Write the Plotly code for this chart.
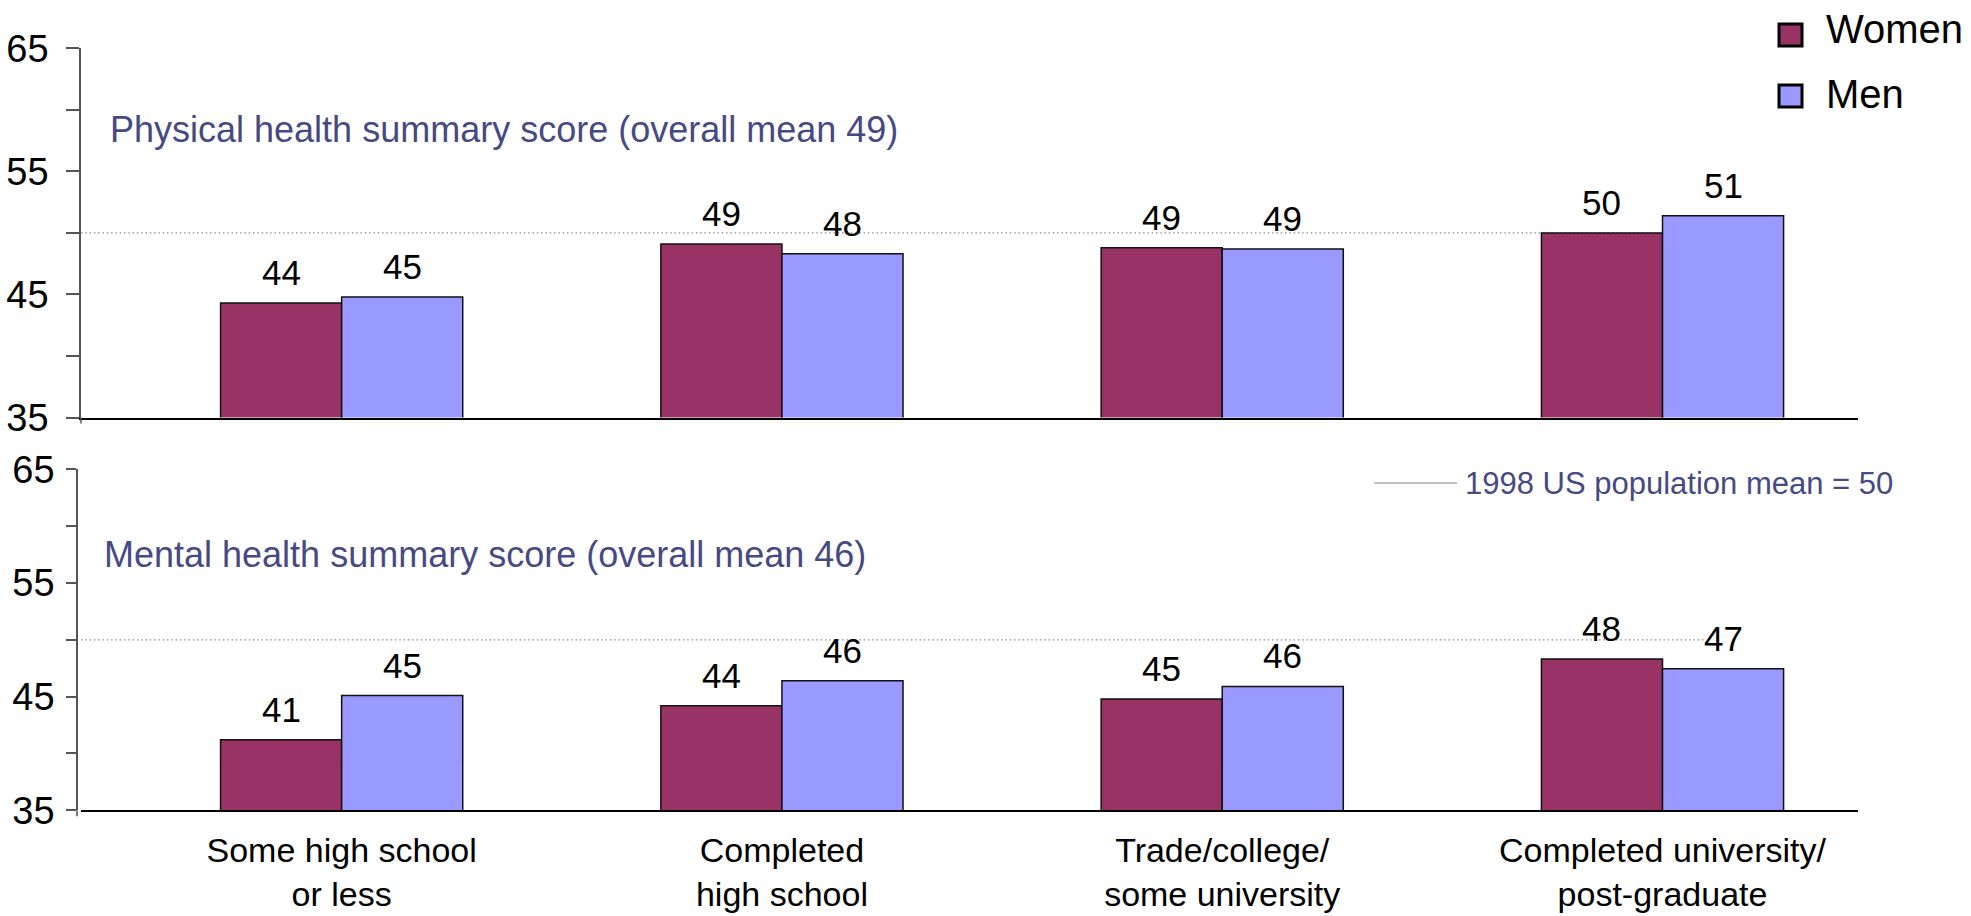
import plotly.graph_objects as go

# ---------------- data ----------------
categories = [
    "Some high school<br>or less",
    "Completed<br>high school",
    "Trade/college/<br>some university",
    "Completed university/<br>post-graduate",
]
series_names = ["Women", "Men"]
physical_women = [44.3, 49.1, 48.8, 50.0]
physical_men = [44.8, 48.3, 48.7, 51.4]
mental_women = [41.2, 44.2, 44.8, 48.3]
mental_men = [45.1, 46.4, 45.9, 47.45]
physical_title = "Physical health summary score (overall mean 49)"
mental_title = "Mental health summary score (overall mean 46)"
us_mean_label = "1998 US population mean = 50"
us_mean = 50
y_ticks = [35, 40, 45, 50, 55, 60, 65]
y_tick_labels = ["35", "", "45", "", "55", "", "65"]

# ---------------- style ----------------
W, H = 1971, 916
FONT = "Arial, Liberation Sans, sans-serif"
WOMEN_COLOR = "#993366"
MEN_COLOR = "#9999FF"
TITLE_COLOR = "#464A84"
BARGAP = 0.45
BW = (1 - BARGAP) / 2
XRANGE = [-0.592, 3.444]


def px(p):
    return p / W


def py(p):
    return 1 - p / H


fig = go.Figure()
panels = [
    ("x", "y", physical_women, physical_men),
    ("x2", "y2", mental_women, mental_men),
]
colors = [WOMEN_COLOR, MEN_COLOR]
annotations = []
shapes = []
for xa, ya, wv, mv in panels:
    for name, vals, col, sgn in [(series_names[0], wv, colors[0], -1),
                                  (series_names[1], mv, colors[1], 1)]:
        fig.add_bar(
            x=categories, y=vals, name=name, xaxis=xa, yaxis=ya,
            marker=dict(color=col, line=dict(color="#111111", width=1.5)),
            showlegend=False,
        )
        for i, v in enumerate(vals):
            annotations.append(dict(
                x=i + sgn * BW / 2, y=v, xref=xa, yref=ya,
                text=f"{v:.0f}", showarrow=False, yanchor="bottom",
                yshift=9, font=dict(size=35, color="black", family=FONT),
            ))
    # dotted reference line at the US mean
    shapes.append(dict(
        type="line", xref=xa, yref=ya, x0=XRANGE[0], x1=3.1,
        y0=us_mean, y1=us_mean, layer="below",
        line=dict(color="#8c8c8c", width=1.3, dash="1.5px,2.8px"),
    ))

# y-axis lines run a little below the lowest tick
for xpos, ybot in [(81, 417.5), (77, 810.3)]:
    shapes.append(dict(type="line", xref="paper", yref="paper",
                       x0=px(xpos), x1=px(xpos), y0=py(ybot), y1=py(ybot + 6),
                       line=dict(color="#555555", width=1.5)))

# panel titles
annotations.append(dict(
    x=px(108), y=py(129.5), xref="paper", yref="paper", xanchor="left",
    yanchor="middle", text=physical_title, showarrow=False,
    font=dict(size=36, color=TITLE_COLOR, family=FONT)))
annotations.append(dict(
    x=px(102), y=py(554.5), xref="paper", yref="paper", xanchor="left",
    yanchor="middle", text=mental_title, showarrow=False,
    font=dict(size=36, color=TITLE_COLOR, family=FONT)))

# US mean legend entry
shapes.append(dict(type="line", xref="paper", yref="paper",
                   x0=px(1374), x1=px(1457), y0=py(483), y1=py(483),
                   line=dict(color="#c0c0c0", width=2)))
annotations.append(dict(
    x=px(1463), y=py(483), xref="paper", yref="paper", xanchor="left",
    yanchor="middle", text=us_mean_label, showarrow=False,
    font=dict(size=31, color=TITLE_COLOR, family=FONT)))

# series legend
legend_rows = [(24, 29), (85, 94)]  # (square top, text centre)
for (name, col), (top, tc) in zip(zip(series_names, colors), legend_rows):
    shapes.append(dict(type="rect", xref="paper", yref="paper",
                       x0=px(1779), x1=px(1802), y0=py(top + 22), y1=py(top),
                       fillcolor=col, line=dict(color="black", width=3)))
    annotations.append(dict(
        x=px(1824), y=py(tc), xref="paper", yref="paper",
        xanchor="left", yanchor="middle", text=name, showarrow=False,
        font=dict(size=40, color="black", family=FONT)))

xdom = [px(81), px(1858)]
xcommon = dict(domain=xdom, range=XRANGE, type="category", showline=True,
               linecolor="black", linewidth=1.5, ticks="", showgrid=False,
               zeroline=False, fixedrange=True, automargin=False)
ycommon = dict(range=[35, 65], tickvals=y_ticks, ticktext=y_tick_labels,
               showline=True, linecolor="#555555", linewidth=1.5,
               ticks="outside", tickcolor="#555555", tickwidth=1.5,
               showgrid=False, zeroline=False, automargin=False,
               fixedrange=True,
               tickfont=dict(size=38, color="black", family=FONT))

fig.update_layout(
    width=W, height=H, autosize=False,
    margin=dict(l=0, r=0, t=0, b=0),
    paper_bgcolor="white", plot_bgcolor="rgba(0,0,0,0)",
    barmode="group", bargap=BARGAP, bargroupgap=0,
    font=dict(family=FONT, color="black"),
    hovermode=False,
    xaxis=dict(**xcommon, anchor="y", showticklabels=False),
    yaxis=dict(**ycommon, domain=[py(417.5), py(48.3)], anchor="x",
               ticklen=13, ticklabelstandoff=10),
    xaxis2=dict(**xcommon, anchor="y2", showticklabels=True,
                tickfont=dict(size=34, color="black", family=FONT),
                ticklabelstandoff=9),
    yaxis2=dict(**ycommon, domain=[py(810.3), py(469.3)], anchor="free",
                position=px(77), ticklen=10, ticklabelstandoff=4),
    annotations=annotations,
    shapes=shapes,
)

fig.write_html("out.html",
               config={"displayModeBar": False},
               post_script="document.body.style.margin='0';"
                           "document.body.style.overflow='hidden';")
